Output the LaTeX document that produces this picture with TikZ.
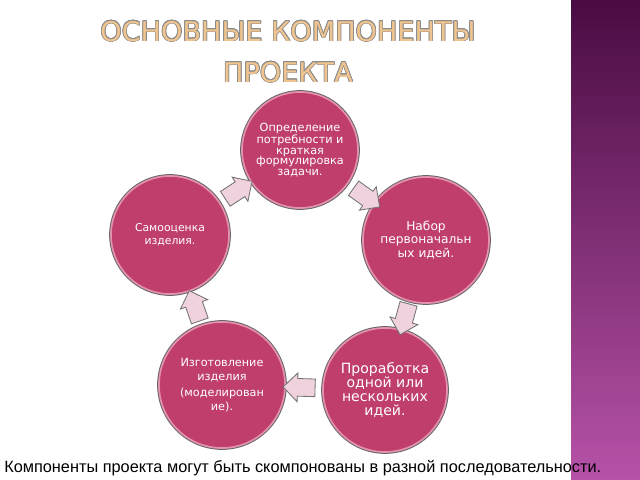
\documentclass[tikz,border=0pt]{standalone}
\usepackage{fontspec}
\setmainfont{Liberation Sans}
\newfontfamily\circlefont{DejaVu Sans}
\newfontfamily\titlefont{DejaVu Sans}
\usepackage{contour}
\contourlength{0.5pt}
\usepackage{tikz}
\usetikzlibrary{shapes.arrows,calc}
\definecolor{stagefill}{RGB}{192,62,108}
\definecolor{stagerim}{RGB}{228,145,175}
\definecolor{arrowfill}{RGB}{240,210,222}
\definecolor{titlefill}{RGB}{240,196,142}
\definecolor{bartop}{RGB}{74,12,66}
\definecolor{barbottom}{RGB}{182,82,168}
\tikzstyle{stage}=[circle, fill=stagefill, draw=stagerim, line width=1.2pt, text=white, align=center, inner sep=0pt, preaction={draw=black!60, line width=2.6pt}]
\tikzstyle{blockarrow}=[single arrow, draw=black!55, fill=arrowfill, line width=0.6pt, minimum height=0.8cm, inner xsep=0pt, inner ysep=0.21cm, single arrow head extend=0.14cm]
\tikzstyle{heading}=[text=titlefill, font=\titlefont\fontsize{19.3}{22}\selectfont, anchor=base]
\tikzstyle{annot}=[font=\fontsize{11.6}{14}\selectfont, anchor=base west, inner sep=0pt]
\newcommand{\linkstages}[3]
{
  \path let \p1 = ($(#2)-(#1)$), \n1 = {atan2(\y1,\x1)} in node[blockarrow, rotate=\n1](#3) at ($(#1)!0.5!(#2)$){};
}

\begin{document}
\begin{tikzpicture}[x=0.025cm, y=-0.025cm]
	\useasboundingbox[fill=white] (0,0) rectangle (640,480);
	\shade[top color=bartop, bottom color=barbottom] (571,0) rectangle (640,480);

	\node[heading](title1) at (288,41){\contour{black!45}{ОСНОВНЫЕ КОМПОНЕНТЫ}};
	\node[heading](title2) at (288,82){\contour{black!45}{ПРОЕКТА}};

	\node[stage, minimum size=2.9cm, font=\circlefont\fontsize{8}{7.6}\selectfont](need) at (300,150){Определение\\потребности и\\краткая\\формулировка\\задачи.};
	\node[stage, minimum size=3.15cm, font=\circlefont\fontsize{8.7}{9.8}\selectfont](ideas) at (426,240){Набор\\первоначальн\\ых идей.};
	\node[stage, minimum size=3.1cm, font=\circlefont\fontsize{10}{10}\selectfont](develop) at (385,390){Проработка\\одной или\\нескольких\\идей.};
	\node[stage, minimum size=3.15cm, font=\circlefont\fontsize{8}{9.6}\selectfont](make) at (222,385){Изготовление\\изделия\\[2pt](моделирован\\ие).};
	\node[stage, minimum size=2.95cm, font=\circlefont\fontsize{7.7}{9.5}\selectfont](review) at (170,235){Самооценка\\изделия.};

	\linkstages{review}{need}{arrow1}
	\linkstages{need}{ideas}{arrow2}
	\linkstages{ideas}{develop}{arrow3}
	\linkstages{develop}{make}{arrow4}
	\linkstages{make}{review}{arrow5}

	\node[annot](note) at (4,472){Компоненты проекта могут быть скомпонованы в разной последовательности.};
\end{tikzpicture}
\end{document}
